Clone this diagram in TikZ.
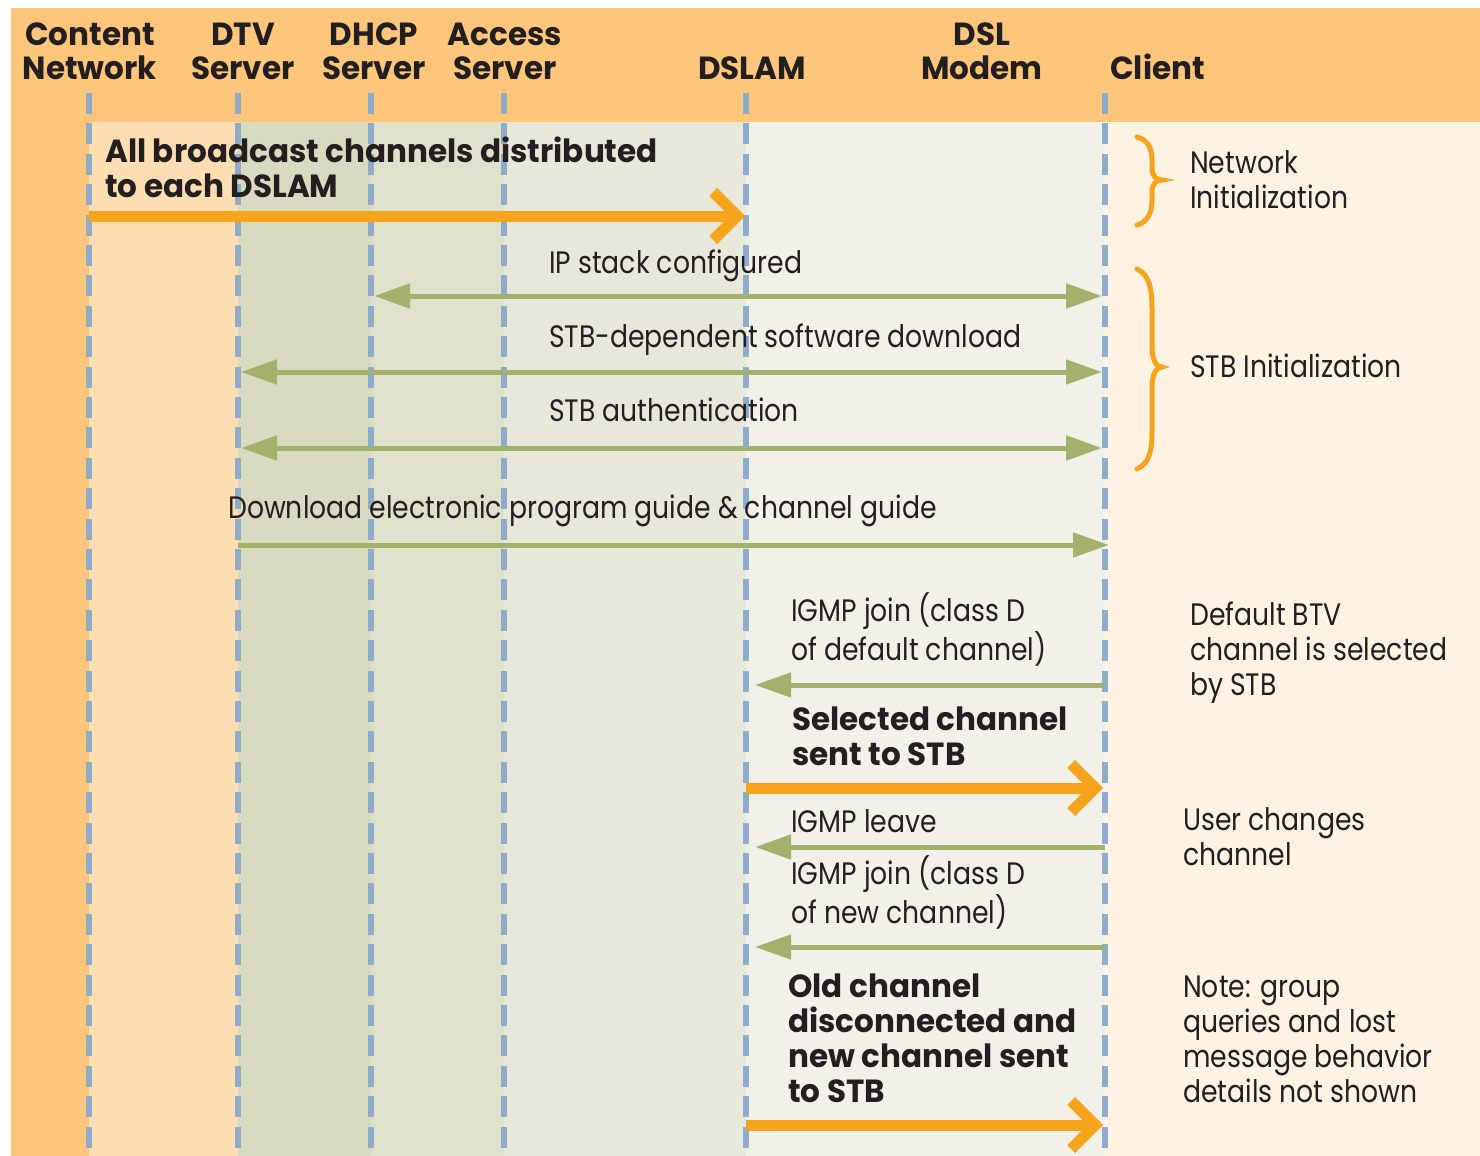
\documentclass[tikz,border=0pt]{standalone}
\usepackage{fontspec}
\setmainfont{Poppins}
\newfontfamily\plainfont{Poppins}[FakeStretch=0.86]
\newfontfamily\heavyfont{Poppins}[FakeStretch=0.97,UprightFont=* Bold]
\usetikzlibrary{arrows.meta}

\definecolor{hdrorange}{HTML}{FEC67A}
\definecolor{lanepeach}{HTML}{FDDEB2}
\definecolor{laneolive}{HTML}{D8DBBF}
\definecolor{lanesage}{HTML}{DFE1CB}
\definecolor{lanestone}{HTML}{E8E8DA}
\definecolor{lanepale}{HTML}{F2F1E9}
\definecolor{lanecream}{HTML}{FEF3E3}
\definecolor{lineblue}{HTML}{8EACC9}
\definecolor{msggreen}{HTML}{A2B16C}
\definecolor{bcorange}{HTML}{F7A41D}
\definecolor{inkdark}{HTML}{231F20}

\begin{document}
\begin{tikzpicture}[x=1pt,y=-1pt,
  lifeline/.style={draw=lineblue, line width=5.5pt, dash pattern=on 21pt off 9.4pt},
  msg/.style={draw=msggreen, line width=5pt},
  msgto/.style={msg, -{Triangle[length=36pt,width=24pt]}},
  msgboth/.style={msg, {Triangle[length=36pt,width=24pt]}-{Triangle[length=36pt,width=24pt]}},
  bcast/.style={draw=bcorange, line width=11pt, -{Straight Barb[length=24pt,width=48pt]}},
  curly/.style={draw=bcorange, line width=5pt, line cap=round},
  hdr/.style={inner sep=0pt, align=center, text=inkdark, font=\heavyfont\fontsize{32}{34}\selectfont},
  boldlbl/.style={inner sep=0pt, align=left, text=inkdark, anchor=base west, font=\heavyfont\fontsize{32}{34.9}\selectfont},
  lbl/.style={inner sep=0pt, align=left, text=inkdark, anchor=base west, font=\plainfont\fontsize{31}{34.7}\selectfont}]

% canvas and swim lanes
\useasboundingbox (0,0) rectangle (1480,1156);
\fill[white] (0,0) rectangle (1480,1156);
\fill[hdrorange] (11,8) rectangle (1480,122);
\fill[hdrorange] (11,122) rectangle (89,1156);
\fill[lanepeach] (89,122) rectangle (238,1156);
\fill[laneolive] (238,122) rectangle (371,1156);
\fill[lanesage] (371,122) rectangle (504,1156);
\fill[lanestone] (504,122) rectangle (746,1156);
\fill[lanepale] (746,122) rectangle (1105,1156);
\fill[lanecream] (1105,122) rectangle (1480,1156);

% participants (anchored at the baseline of the last line)
\node[hdr, anchor=base] (hCN) at (90,80) {Content\\Network};
\node[hdr, anchor=base] (hDTV) at (243,80) {DTV\\Server};
\node[hdr, anchor=base] (hDHCP) at (374,80) {DHCP\\Server};
\node[hdr, anchor=base] (hACC) at (505,80) {Access\\Server};
\node[hdr, anchor=base] (hDSLAM) at (752,80) {DSLAM};
\node[hdr, anchor=base] (hMODEM) at (982,80) {DSL\\Modem};
\node[hdr, anchor=base west] (hCL) at (1110,80) {Client};

% lifelines
\coordinate (cn) at (89,93);
\coordinate (dtv) at (238,93);
\coordinate (dhcp) at (371,93);
\coordinate (acc) at (504,93);
\coordinate (dslam) at (746,93);
\coordinate (client) at (1105,93);
\coordinate (bot) at (0,1158);
\foreach \p in {cn,dtv,dhcp,acc,dslam,client}
  \draw[lifeline] (\p) -- (\p |- bot);

% message rows
\coordinate (r1) at (0,216);
\coordinate (r2) at (0,296);
\coordinate (r3) at (0,372);
\coordinate (r4) at (0,448);
\coordinate (r5) at (0,545);
\coordinate (r6) at (0,685);
\coordinate (r7) at (0,788);
\coordinate (r8) at (0,847);
\coordinate (r9) at (0,947);
\coordinate (r10) at (0,1125);

% network initialization
\node[boldlbl] (tBcast) at (105,197) {All broadcast channels distributed\\to each DSLAM};
\draw[bcast] (cn |- r1) -- ([xshift=-1pt]dslam |- r1);

% STB initialization
\node[lbl] (tIP) at (549,273) {IP stack configured};
\draw[msgboth] ([xshift=3pt]dhcp |- r2) -- ([xshift=-3pt]client |- r2);
\node[lbl] (tSW) at (549,347) {STB-dependent software download};
\draw[msgboth] ([xshift=3pt]dtv |- r3) -- ([xshift=-3pt]client |- r3);
\node[lbl] (tAuth) at (549,421) {STB authentication};
\draw[msgboth] ([xshift=3pt]dtv |- r4) -- ([xshift=-3pt]client |- r4);

% program guide
\node[lbl] (tEPG) at (228,518) {Download electronic program guide \& channel guide};
\draw[msgto] (dtv |- r5) -- ([xshift=4pt]client |- r5);

% default channel
\node[lbl] (tJoin1) at (791,660) {IGMP join (class D\\of default channel)};
\draw[msgto] (client |- r6) -- ([xshift=9pt]dslam |- r6);
\node[boldlbl] (tSel) at (792,765) {Selected channel\\sent to STB};
\draw[bcast] (dslam |- r7) -- ([xshift=-2pt]client |- r7);

% channel change
\node[lbl] (tLeave) at (791,832) {IGMP leave};
\draw[msgto] (client |- r8) -- ([xshift=9pt]dslam |- r8);
\node[lbl] (tJoin2) at (791,923) {IGMP join (class D\\of new channel)};
\draw[msgto] (client |- r9) -- ([xshift=9pt]dslam |- r9);
\node[boldlbl] (tOld) at (788,1102) {Old channel\\disconnected and\\new channel sent\\to STB};
\draw[bcast] (dslam |- r10) -- ([xshift=-2pt]client |- r10);

% phase braces
\draw[curly] (1137,137) .. controls (1148,140) and (1152,148) .. (1152,160)
  -- (1152,168) .. controls (1152,176) and (1156,180) .. (1162,180)
  .. controls (1156,180) and (1152,184) .. (1152,192)
  -- (1152,200) .. controls (1152,212) and (1148,222) .. (1137,225);
\draw[curly] (1137,269) .. controls (1150,275) and (1152,290) .. (1152,310)
  -- (1152,345) .. controls (1152,360) and (1156,367) .. (1162,367)
  .. controls (1156,367) and (1152,374) .. (1152,389)
  -- (1152,430) .. controls (1152,450) and (1150,463) .. (1137,469);

% phase notes
\node[lbl] (nNet) at (1190,208) {Network\\Initialization};
\node[lbl] (nSTB) at (1190,377) {STB Initialization};
\node[lbl] (nDef) at (1190,695) {Default BTV\\channel is selected\\by STB};
\node[lbl] (nUser) at (1183,865) {User changes\\channel};
\node[lbl] (nNote) at (1183,1102) {Note: group\\queries and lost\\message behavior\\details not shown};
\end{tikzpicture}
\end{document}
